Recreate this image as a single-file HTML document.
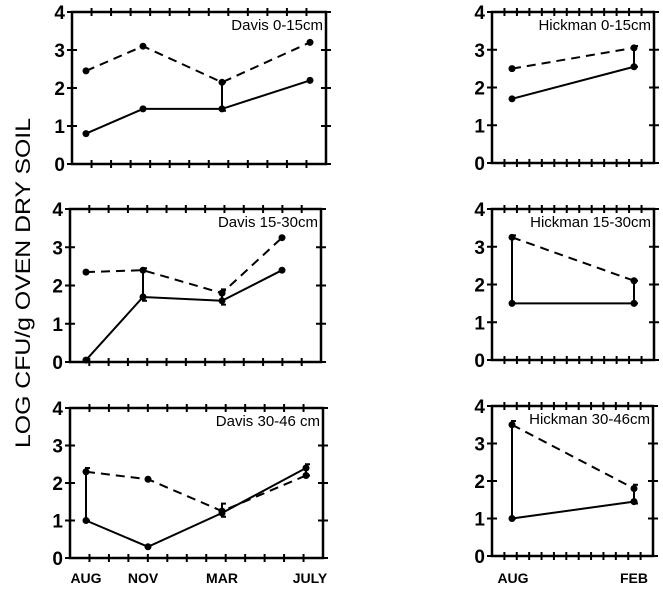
<!DOCTYPE html>
<html><head><meta charset="utf-8"><style>
html,body{margin:0;padding:0;background:#fff;}
svg{display:block;font-family:"Liberation Sans",sans-serif;font-weight:bold;}
</style></head><body>
<svg id="s" width="663" height="589" viewBox="0 0 663 589" xmlns="http://www.w3.org/2000/svg">
<text transform="translate(30,283) rotate(-90)" text-anchor="middle" font-size="21" font-weight="normal" fill="#000" textLength="330" lengthAdjust="spacingAndGlyphs">LOG CFU/g OVEN DRY SOIL</text>
<text x="86" y="583" text-anchor="middle" font-size="14">AUG</text>
<text x="143" y="583" text-anchor="middle" font-size="14">NOV</text>
<text x="222" y="583" text-anchor="middle" font-size="14">MAR</text>
<text x="310" y="583" text-anchor="middle" font-size="14">JULY</text>
<text x="513" y="583" text-anchor="middle" font-size="14">AUG</text>
<text x="634" y="583" text-anchor="middle" font-size="14">FEB</text>
</svg>
<script>
var s=document.getElementById('s'),NS='http://www.w3.org/2000/svg';
function el(t,a,txt){var e=document.createElementNS(NS,t);for(var k in a)e.setAttribute(k,a[k]);if(txt)e.textContent=txt;s.appendChild(e);return e;}
var panels=[
{l:72,r:326,t:12,b:164,title:'Davis 0-15cm',xs:[86,143,222,310],d:[2.45,3.1,2.15,3.2],so:[0.8,1.45,1.45,2.2],bars:[[222,1.4,2.15]]},
{l:70,r:321,t:209,b:362,title:'Davis 15-30cm',xs:[86,143,222,282],d:[2.35,2.4,1.8,3.25],so:[0.05,1.7,1.6,2.4],bars:[[143,1.6,2.45],[222,1.5,1.9]]},
{l:70,r:323,t:408,b:558,title:'Davis 30-46 cm',xs:[86,148,222,306],d:[2.3,2.1,1.25,2.2],so:[1.0,0.3,1.2,2.4],bars:[[86,1.0,2.4],[222,1.1,1.45],[306,2.2,2.5]]},
{l:492,r:654,t:12,b:163,title:'Hickman 0-15cm',xs:[512,634],d:[2.5,3.05],so:[1.7,2.55],bars:[[634,2.55,3.1]]},
{l:492,r:654,t:209,b:360,title:'Hickman 15-30cm',xs:[512,634],d:[3.25,2.1],so:[1.5,1.5],bars:[[512,1.5,3.3],[634,1.5,2.1]]},
{l:492,r:653,t:406,b:556,title:'Hickman 30-46cm',xs:[512,634],d:[3.5,1.8],so:[1.0,1.45],bars:[[512,1.0,3.6],[634,1.4,1.9]]}];
panels.forEach(function(p){
 function Y(v){return p.b-(p.b-p.t)*v/4;}
 el('rect',{x:p.l,y:p.t,width:p.r-p.l,height:p.b-p.t,fill:'none',stroke:'#000','stroke-width':2.5});
 for(var v=0;v<=4;v++){var y=Y(v);
  el('line',{x1:p.l-5,x2:p.l+5,y1:y,y2:y,stroke:'#000','stroke-width':2});
  el('line',{x1:p.r-5,x2:p.r+5,y1:y,y2:y,stroke:'#000','stroke-width':2});
  el('text',{x:p.l-7,y:y+7,'text-anchor':'end','font-size':19,fill:'#000'},String(v));}
 var n=13,step=(p.r-p.l)/n;
 for(var i=1;i<n;i++){var x=p.l+i*step;
  el('line',{x1:x,x2:x,y1:p.t-4,y2:p.t+4,stroke:'#000','stroke-width':2});
  el('line',{x1:x,x2:x,y1:p.b-4,y2:p.b+4,stroke:'#000','stroke-width':2});}
 el('text',{x:p.r-3,y:p.t+18,'text-anchor':'end','font-size':15,fill:'#000','font-weight':'normal'},p.title);
 p.bars.forEach(function(b){var x=b[0];
  el('path',{d:'M'+(x+4)+' '+Y(b[2])+'H'+x+'V'+Y(b[1])+'H'+(x+4),fill:'none',stroke:'#000','stroke-width':2});});
 var dp=p.xs.map(function(x,i){return x+','+Y(p.d[i]);}).join(' ');
 var sp=p.xs.map(function(x,i){return x+','+Y(p.so[i]);}).join(' ');
 el('polyline',{points:dp,fill:'none',stroke:'#000','stroke-width':2,'stroke-dasharray':'9,6'});
 el('polyline',{points:sp,fill:'none',stroke:'#000','stroke-width':2});
 p.xs.forEach(function(x,i){el('circle',{cx:x,cy:Y(p.d[i]),r:3.5,fill:'#000'});el('circle',{cx:x,cy:Y(p.so[i]),r:3.5,fill:'#000'});});
});
</script>
</body></html>
